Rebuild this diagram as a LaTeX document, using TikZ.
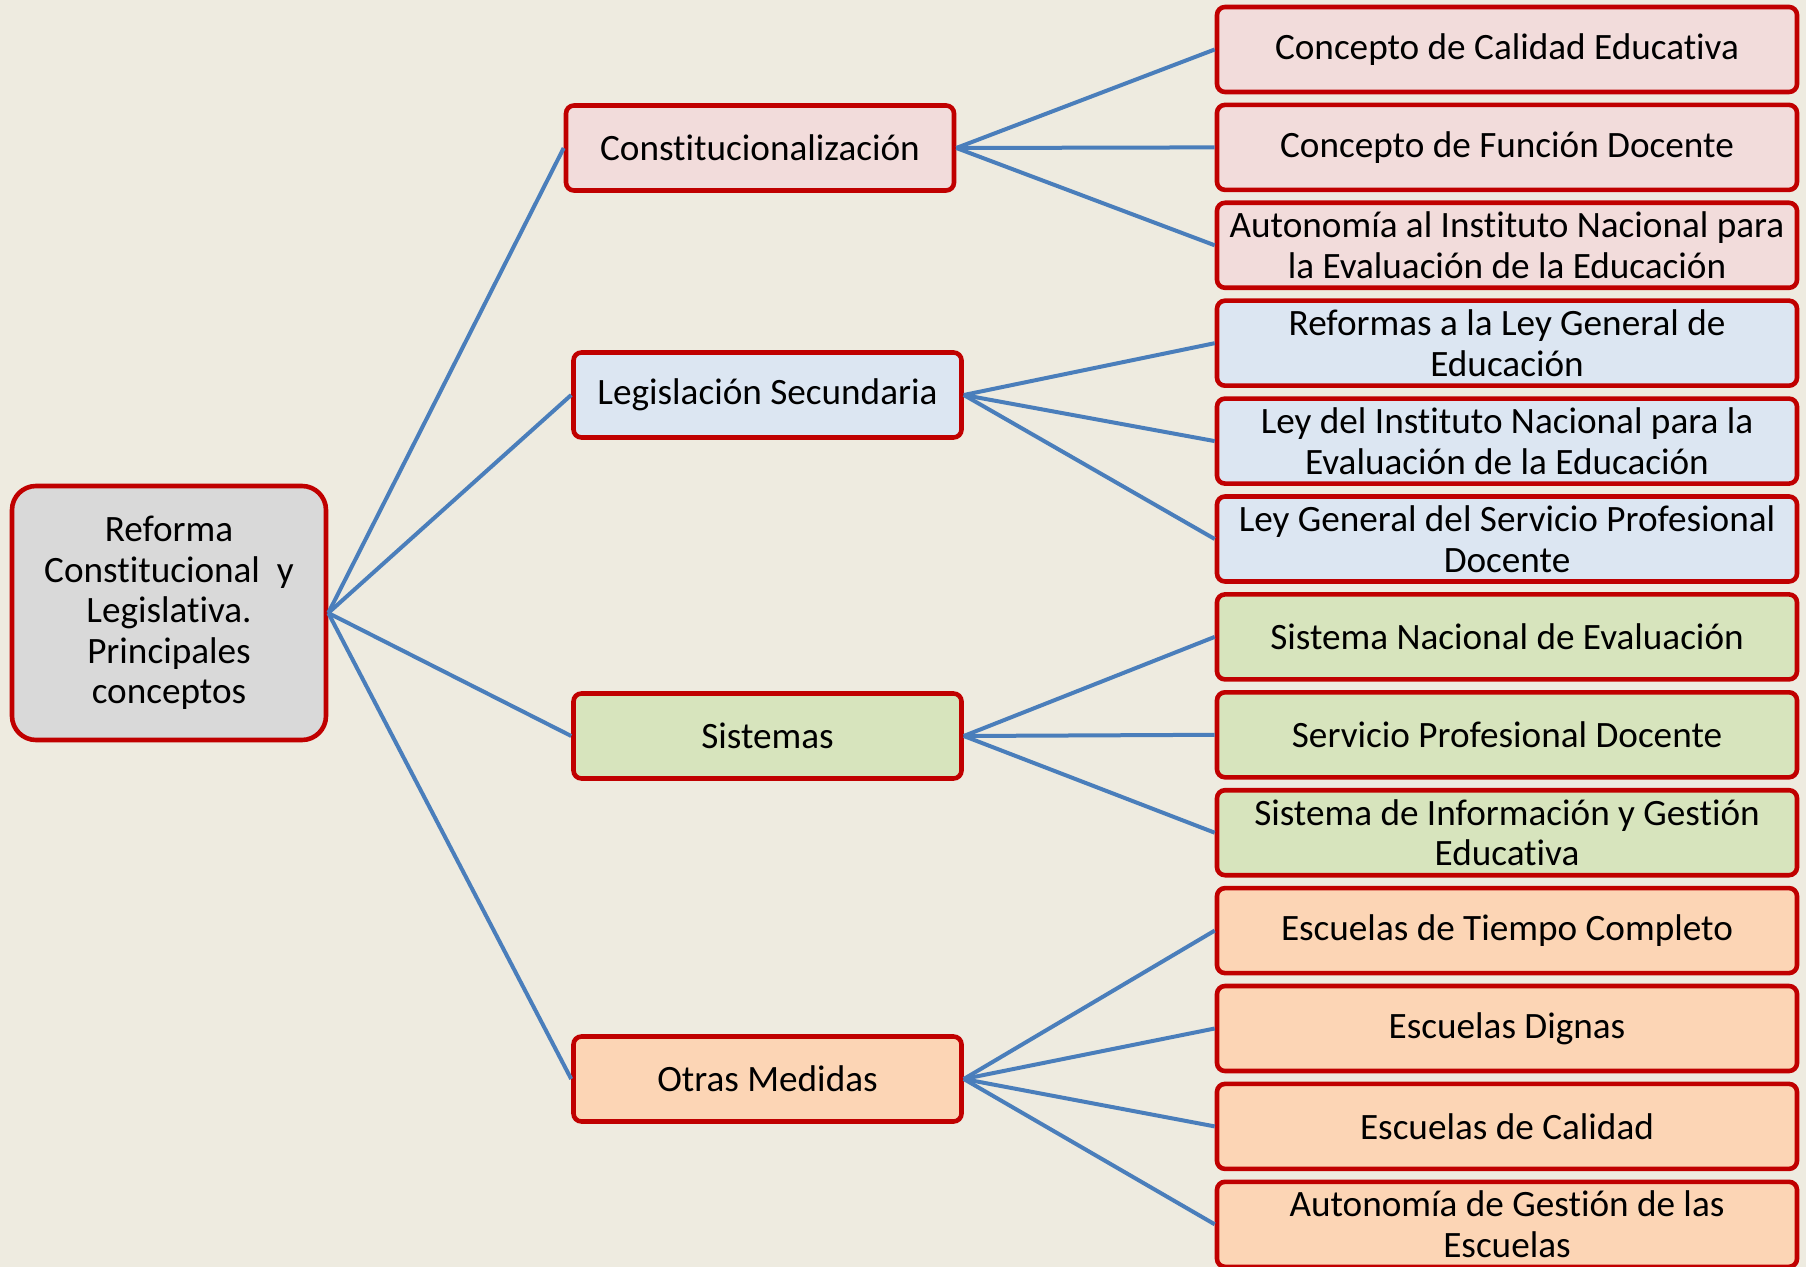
\documentclass[tikz,border=0pt]{standalone}
\usepackage{fontspec}
\setmainfont{Carlito}[Ligatures=CommonOff]
\usepackage{xcolor}
\definecolor{fondo}{HTML}{EEEBE0}
\definecolor{borde}{HTML}{C00000}
\definecolor{linea}{HTML}{4A7EBB}
\definecolor{rosa}{HTML}{F2DCDB}
\definecolor{azul}{HTML}{DCE6F2}
\definecolor{verde}{HTML}{D7E4BD}
\definecolor{durazno}{HTML}{FCD5B5}
\definecolor{gris}{HTML}{D9D9D9}

\begin{document}
\begin{tikzpicture}[
 x=0.5pt, y=-0.5pt,
 block/.style = {
    rectangle,
    rounded corners=4pt,
    draw=borde,
    line width=2.3pt,
    minimum height=42.5pt,
    inner sep=1pt,
    align=center,
    font=\fontsize{18.6}{20.3}\selectfont},
 rama/.style = {block, minimum width=194pt},
 hoja/.style = {block, minimum width=290pt},
 raiz/.style = {block, rounded corners=12pt, minimum width=157pt, minimum height=127pt, fill=gris},
 enlace/.style = {line width=2pt, linea},
  node distance = 48.95pt
  ]
\fill[fondo] (0,0) rectangle (1806,1267);
\useasboundingbox (0,0) rectangle (1806,1267);

\node(reforma)[raiz] at (169,613) {Reforma\\Constitucional~ y\\Legislativa.\\Principales\\conceptos};

\node(consti)[rama,fill=rosa] at (760,148) {Constitucionalización};
\node(legis)[rama,fill=azul] at (767.5,395) {Legislación Secundaria};
\node(siste)[rama,fill=verde] at (767.5,736) {Sistemas};
\node(otras)[rama,fill=durazno] at (767.5,1079) {Otras Medidas};

\node(calidad)[hoja,fill=rosa] at (1507,49.5) {Concepto de Calidad Educativa};
\node(funcion)[hoja,fill=rosa,below of=calidad] {Concepto de Función Docente};
\node(autoinee)[hoja,fill=rosa,below of=funcion] {Autonomía al Instituto Nacional para\\la Evaluación de la Educación};
\node(lge)[hoja,fill=azul,below of=autoinee] {Reformas a la Ley General de\\Educación};
\node(leyinee)[hoja,fill=azul,below of=lge] {Ley del Instituto Nacional para la\\Evaluación de la Educación};
\node(lgspd)[hoja,fill=azul,below of=leyinee] {Ley General del Servicio Profesional\\Docente};
\node(sne)[hoja,fill=verde,below of=lgspd] {Sistema Nacional de Evaluación};
\node(spd)[hoja,fill=verde,below of=sne] {Servicio Profesional Docente};
\node(sige)[hoja,fill=verde,below of=spd] {Sistema de Información y Gestión\\Educativa};
\node(etc)[hoja,fill=durazno,below of=sige] {Escuelas de Tiempo Completo};
\node(dignas)[hoja,fill=durazno,below of=etc] {Escuelas Dignas};
\node(ecalidad)[hoja,fill=durazno,below of=dignas] {Escuelas de Calidad};
\node(autogest)[hoja,fill=durazno,below of=ecalidad] {Autonomía de Gestión de las\\Escuelas};

\draw[enlace] (reforma.east) -- (consti.west);
\draw[enlace] (reforma.east) -- (legis.west);
\draw[enlace] (reforma.east) -- (siste.west);
\draw[enlace] (reforma.east) -- (otras.west);

\draw[enlace] (consti.east) -- (calidad.west);
\draw[enlace] (consti.east) -- (funcion.west);
\draw[enlace] (consti.east) -- (autoinee.west);
\draw[enlace] (legis.east) -- (lge.west);
\draw[enlace] (legis.east) -- (leyinee.west);
\draw[enlace] (legis.east) -- (lgspd.west);
\draw[enlace] (siste.east) -- (sne.west);
\draw[enlace] (siste.east) -- (spd.west);
\draw[enlace] (siste.east) -- (sige.west);
\draw[enlace] (otras.east) -- (etc.west);
\draw[enlace] (otras.east) -- (dignas.west);
\draw[enlace] (otras.east) -- (ecalidad.west);
\draw[enlace] (otras.east) -- (autogest.west);

\end{tikzpicture}
\end{document}
